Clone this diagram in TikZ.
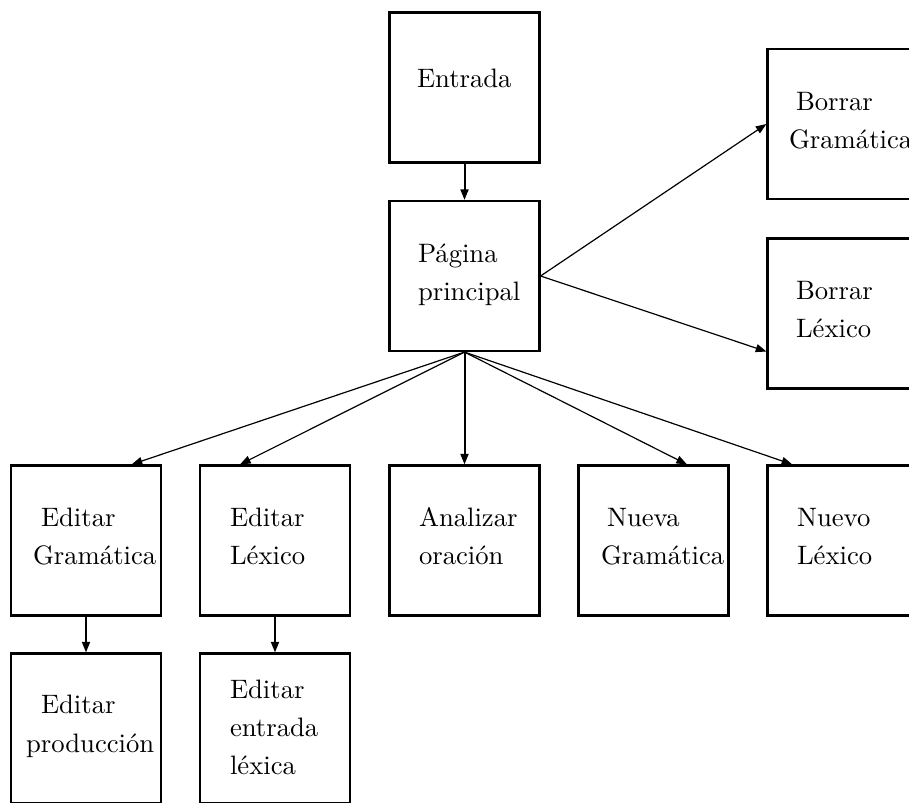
\documentclass[tikz,border=0pt]{standalone}
\usepackage{fontspec}
\usetikzlibrary{arrows.meta,calc}

% screens of the application and the links between them
\tikzset{
  screen/.style={draw, line width=0.8pt, minimum width=56.25pt,
                 minimum height=56.25pt, inner sep=0pt},
  lbl/.style={anchor=base west, inner sep=0pt, outer sep=0pt},
  tip/.style={-{Triangle[length=4pt,width=3pt]}},
  link/.style={tip, line width=0.75pt},
  fan/.style={tip, line width=0.45pt},
}

\begin{document}
\begin{tikzpicture}[x=0.375pt,y=-0.375pt]
\clip (0,0) rectangle (909,802);

% boxes
\node[screen] (entrada) at (464.5,87.5) {};
\node[screen] (pagina)  at (464.5,276)  {};
\node[screen] (bg)      at (842.5,124)  {};
\node[screen] (bl)      at (842.5,313.5) {};
\node[screen] (eg)      at (86,540.5)   {};
\node[screen] (el)      at (275,540.5)  {};
\node[screen] (an)      at (464.5,540.5) {};
\node[screen] (ng)      at (653.5,540.5) {};
\node[screen] (nl)      at (842.5,540.5) {};
\node[screen] (ep)      at (86,728.5)   {};
\node[screen] (ee)      at (275,728.5)  {};

% box texts, one node per line
\node[lbl] (entrada-1) at (417,87)  {Entrada};
\node[lbl] (pagina-1)  at (418,262) {Página};
\node[lbl] (pagina-2)  at (418,300) {principal};
\node[lbl] (bg-1)      at (796,110) {Borrar};
\node[lbl] (bg-2)      at (789,148) {Gramática};
\node[lbl] (bl-1)      at (796,299) {Borrar};
\node[lbl] (bl-2)      at (796,337) {Léxico};
\node[lbl] (eg-1)      at (41,526)  {Editar};
\node[lbl] (eg-2)      at (33,564)  {Gramática};
\node[lbl] (el-1)      at (230,526) {Editar};
\node[lbl] (el-2)      at (230,564) {Léxico};
\node[lbl] (an-1)      at (419,526) {Analizar};
\node[lbl] (an-2)      at (419,564) {oración};
\node[lbl] (ng-1)      at (607,526) {Nueva};
\node[lbl] (ng-2)      at (601,564) {Gramática};
\node[lbl] (nl-1)      at (797,526) {Nuevo};
\node[lbl] (nl-2)      at (797,564) {Léxico};
\node[lbl] (ep-1)      at (41,713)  {Editar};
\node[lbl] (ep-2)      at (26,752)  {producción};
\node[lbl] (ee-1)      at (230,698) {Editar};
\node[lbl] (ee-2)      at (230,736) {entrada};
\node[lbl] (ee-3)      at (230,774) {léxica};

% vertical links
\draw[link] (entrada.south) -- (pagina.north);
\draw[link] (pagina.south) -- (an.north);
\draw[link] (eg.south) -- (ep.north);
\draw[link] (el.south) -- (ee.north);

% links fanning out of the main page
\draw[fan] (pagina.east) -- (bg.west);
\draw[fan] (pagina.east) -- ($(bl.south west)!0.25!(bl.north west)$);
\draw[fan] (pagina.south) -- ($(eg.north west)!0.8!(eg.north east)$);
\draw[fan] (pagina.south) -- ($(el.north west)!0.27!(el.north east)$);
\draw[fan] (pagina.south) -- ($(ng.north west)!0.72!(ng.north east)$);
\draw[fan] (pagina.south) -- ($(nl.north west)!0.17!(nl.north east)$);
\end{tikzpicture}
\end{document}
